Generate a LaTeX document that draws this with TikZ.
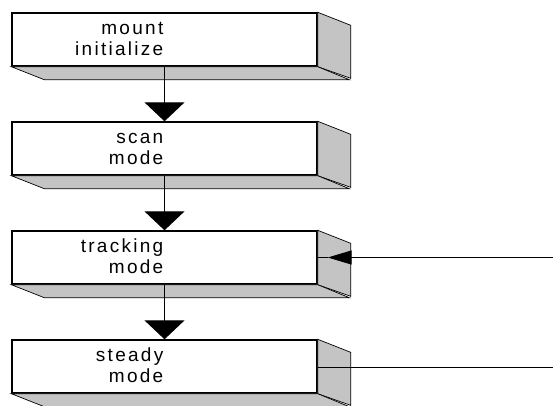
\documentclass[tikz,border=0pt]{standalone}
\usepackage{fontspec}
\setmainfont{Liberation Sans}[LetterSpace=12]
\usetikzlibrary{positioning,arrows.meta}
\definecolor{slabgray}{RGB}{196,196,196}
% side and bottom faces of a stage slab
\newcommand{\slab}[1]{%
  \path[face] (#1.north east) -- ++(33,13) -- ++(0,53) -- (#1.south east) -- cycle;
  \path[face] (#1.south west) -- ++(33,13) -- ++(305,0) -- (#1.south east) -- cycle;}

\begin{document}
\begin{tikzpicture}[x=1pt,y=-1pt]
      \tikzstyle{stage}=[draw,fill=white,line width=1.4pt,minimum width=305pt,minimum height=53pt,inner sep=0pt]
      \tikzstyle{face}=[draw,fill=slabgray,line width=0.7pt]
      \tikzstyle{stagetext}=[anchor=north east,inner sep=0pt,align=right,font=\fontsize{19}{21}\selectfont]
      \tikzstyle{flow}=[line width=1.1pt,-{Triangle[width=40pt,length=19pt]}]
      \useasboundingbox (0,0) rectangle (553,406);
      % Stage slabs
      \node (mount) at (164.5,39.5) [stage] {};
      \node (scan) at (164.5,148.5) [stage] {};
      \node (tracking) at (164.5,257.5) [stage] {};
      \node (steady) at (164.5,366.5) [stage] {};
      \slab{mount}
      \slab{scan}
      \slab{tracking}
      \slab{steady}
      % Stage names
      \node (mounttxt) at ([shift={(-1,7)}]mount.north) [stagetext] {\strut mount\\initialize};
      \node (scantxt) at ([shift={(-1,7)}]scan.north) [stagetext] {\strut scan\\mode};
      \node (trackingtxt) at ([shift={(-1,7)}]tracking.north) [stagetext] {\strut tracking\\mode};
      \node (steadytxt) at ([shift={(-1,7)}]steady.north) [stagetext] {\strut steady\\mode};
      % Flow between stages
      \draw [flow] (mount) -- (scan);
      \draw [flow] (scan) -- (tracking);
      \draw [flow] (tracking) -- (steady);
      % Lines to the right
      \coordinate (feedin) at (553,257.5);
      \coordinate (feedout) at (553,367.5);
      \draw [line width=1.1pt,-{Triangle[width=14pt,length=24pt]}] (feedin) -- ([xshift=10pt]tracking.east);
      \draw [line width=1.1pt] ([xshift=10pt]tracking.east) -- (tracking.east);
      \draw [line width=1.1pt] (steady.east|-feedout) -- (feedout);
    \end{tikzpicture}
\end{document}
